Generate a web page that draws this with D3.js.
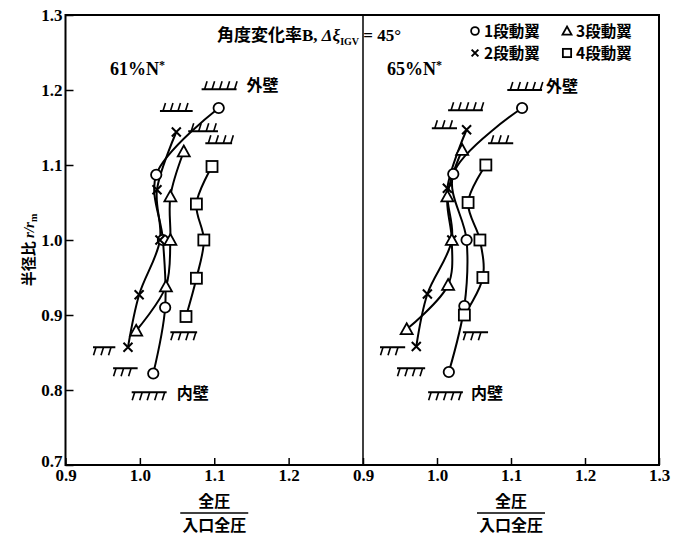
<!DOCTYPE html>
<html>
<head>
<meta charset="utf-8">
<script src="https://cdn.jsdelivr.net/npm/d3@7"></script>
<style>
  body { margin: 0; background: #fff; }
  svg text { fill: #000; }
</style>
</head>
<body>
<div id="vis"></div>
<script>
// ---- data ----
const STAGE_LABELS = ['1段動翼', '2段動翼', '3段動翼', '4段動翼'];
const STAGE_SYMBOLS = ['circle', 'cross', 'triangle', 'square'];
const SPEED_LABELS = ['61%N*', '65%N*'];

// 61%N*  (r/rm, total pressure ratio)
const r61Stage1 = [1.176, 1.087, 1.0, 0.91, 0.822];
const p61Stage1 = [1.106, 1.022, 1.031, 1.034, 1.018];
const r61Stage2 = [1.144, 1.067, 1.0, 0.927, 0.857];
const p61Stage2 = [1.049, 1.023, 1.027, 0.999, 0.984];
const r61Stage3 = [1.118, 1.058, 1.0, 0.938, 0.879];
const p61Stage3 = [1.059, 1.041, 1.041, 1.035, 0.995];
const r61Stage4 = [1.098, 1.048, 1.0, 0.949, 0.898];
const p61Stage4 = [1.097, 1.076, 1.086, 1.076, 1.062];

// 65%N*
const r65Stage1 = [1.176, 1.088, 1.0, 0.912, 0.824];
const p65Stage1 = [1.115, 1.022, 1.040, 1.037, 1.016];
const r65Stage2 = [1.147, 1.069, 1.0, 0.928, 0.858];
const p65Stage2 = [1.040, 1.014, 1.020, 0.987, 0.972];
const r65Stage3 = [1.12, 1.058, 1.0, 0.94, 0.881];
const p65Stage3 = [1.034, 1.014, 1.020, 1.015, 0.959];
const r65Stage4 = [1.1, 1.05, 1.0, 0.95, 0.9];
const p65Stage4 = [1.066, 1.042, 1.058, 1.062, 1.037];

// wall marks: [x start, x end, r/rm]
const outerWalls61 = [[1.083, 1.130, 1.201], [1.027, 1.071, 1.172], [1.065, 1.105, 1.145], [1.088, 1.124, 1.129]];
const innerWalls61 = [[0.937, 0.967, 0.857], [0.964, 0.997, 0.829], [1.041, 1.077, 0.877], [0.989, 1.036, 0.797]];
const outerWalls65 = [[1.095, 1.142, 1.200], [1.015, 1.062, 1.173], [0.993, 1.027, 1.149], [1.069, 1.103, 1.129]];
const innerWalls65 = [[0.923, 0.957, 0.857], [0.946, 0.984, 0.829], [1.035, 1.069, 0.877], [0.988, 1.035, 0.797]];

const X_TICKS_LEFT = [0.9, 1.0, 1.1, 1.2];
const X_TICKS_RIGHT = [0.9, 1.0, 1.1, 1.2, 1.3];
const Y_TICKS = [0.7, 0.8, 0.9, 1.0, 1.1, 1.2, 1.3];

// ---- layout ----
const WIDTH = 685;
const HEIGHT = 537;
const PLOT = { left: 65.5, mid: 363, right: 659, top: 15, bottom: 465 };
const NUM_FONT = "'Liberation Serif', 'DejaVu Serif', serif";
const CJK_FONT = "'Noto Sans CJK JP', 'Liberation Serif', sans-serif";

const SVG = d3.select('#vis').append('svg')
  .attr('width', WIDTH)
  .attr('height', HEIGHT);

const y = d3.scaleLinear().domain([0.7, 1.3]).range([PLOT.bottom, PLOT.top]);
const xLeft = d3.scaleLinear().domain([0.9, 1.3]).range([PLOT.left, PLOT.mid]);
const xRight = d3.scaleLinear().domain([0.9, 1.3]).range([PLOT.mid, PLOT.right]);

function toPoints(rs, ps) {
  return rs.map((r, i) => ({ r: r, p: ps[i] }));
}

function main() {
  const panels = [
    {
      x: xLeft, label: SPEED_LABELS[0], ticks: X_TICKS_LEFT,
      series: [toPoints(r61Stage1, p61Stage1), toPoints(r61Stage2, p61Stage2),
               toPoints(r61Stage3, p61Stage3), toPoints(r61Stage4, p61Stage4)],
      outer: outerWalls61, inner: innerWalls61,
      labelPos: [110, 75], outerGap: 10, innerGap: 10,
    },
    {
      x: xRight, label: SPEED_LABELS[1], ticks: X_TICKS_RIGHT,
      series: [toPoints(r65Stage1, p65Stage1), toPoints(r65Stage2, p65Stage2),
               toPoints(r65Stage3, p65Stage3), toPoints(r65Stage4, p65Stage4)],
      outer: outerWalls65, inner: innerWalls65,
      labelPos: [387, 75], outerGap: 4, innerGap: 8,
    },
  ];

  drawFrame();
  panels.forEach(drawPanel);
  drawLegend();
  drawTexts(panels);
}

function drawFrame() {
  const g = SVG.append('g');
  g.append('rect')
    .attr('x', PLOT.left).attr('y', PLOT.top)
    .attr('width', PLOT.right - PLOT.left)
    .attr('height', PLOT.bottom - PLOT.top)
    .attr('fill', 'none').attr('stroke', '#000').attr('stroke-width', 2);
  g.append('line')
    .attr('x1', PLOT.mid).attr('x2', PLOT.mid)
    .attr('y1', PLOT.top).attr('y2', PLOT.bottom)
    .attr('stroke', '#000').attr('stroke-width', 1.5);

  // y axis, ticks inward
  const yAxis = d3.axisLeft(y).tickValues(Y_TICKS)
    .tickSizeInner(-8).tickSizeOuter(0).tickPadding(3)
    .tickFormat(d3.format('.1f'));
  const ya = g.append('g').attr('transform', `translate(${PLOT.left},0)`).call(yAxis);
  ya.select('.domain').remove();
  ya.selectAll('line').attr('stroke-width', 1.5);
  ya.selectAll('text').attr('font-family', NUM_FONT).attr('font-size', 17)
    .attr('font-weight', 'bold');
  // the bottom label sits a little higher, clear of the 0.9 on the x axis
  ya.selectAll('.tick').filter((d) => d === 0.7).select('text').attr('y', -4);
}

function drawPanel(panel) {
  const x = panel.x;
  const g = SVG.append('g');

  const xAxis = d3.axisBottom(x).tickValues(panel.ticks)
    .tickSizeInner(-7).tickSizeOuter(0).tickPadding(4)
    .tickFormat(d3.format('.1f'));
  const xa = g.append('g').attr('transform', `translate(0,${PLOT.bottom})`).call(xAxis);
  xa.select('.domain').remove();
  xa.selectAll('line').attr('stroke-width', 1.5);
  xa.selectAll('text').attr('font-family', NUM_FONT).attr('font-size', 17)
    .attr('font-weight', 'bold');

  // wall marks
  panel.outer.forEach((w) => drawWall(g, x(w[0]), x(w[1]), y(w[2]), 'outer'));
  panel.inner.forEach((w) => drawWall(g, x(w[0]), x(w[1]), y(w[2]), 'inner'));

  const lastOuter = panel.outer[0];
  g.append('text')
    .attr('x', x(lastOuter[1]) + panel.outerGap).attr('y', y(lastOuter[2]) + 2)
    .attr('font-family', CJK_FONT).attr('font-size', 16).attr('font-weight', 'bold')
    .text('外壁');
  const lastInner = panel.inner[3];
  g.append('text')
    .attr('x', x(lastInner[1]) + panel.innerGap).attr('y', y(lastInner[2]) + 7)
    .attr('font-family', CJK_FONT).attr('font-size', 16).attr('font-weight', 'bold')
    .text('内壁');

  // curves
  const line = d3.line()
    .x((d) => x(d.p))
    .y((d) => y(d.r))
    .curve(d3.curveCatmullRom.alpha(0.5));
  panel.series.forEach((pts) => {
    g.append('path')
      .attr('d', line(pts))
      .attr('fill', 'none').attr('stroke', '#000').attr('stroke-width', 2);
  });

  // markers
  panel.series.forEach((pts, i) => {
    pts.forEach((d) => drawSymbol(g, STAGE_SYMBOLS[i], x(d.p), y(d.r), 1));
  });
}

function drawWall(g, x0, x1, yy, side) {
  g.append('line')
    .attr('x1', x0).attr('x2', x1).attr('y1', yy).attr('y2', yy)
    .attr('stroke', '#000').attr('stroke-width', 2);
  const step = 7.5;
  for (let xx = x0 + 3; xx <= x1 - 1; xx += step) {
    if (side === 'outer') {
      g.append('line')
        .attr('x1', xx).attr('y1', yy).attr('x2', xx + 2.5).attr('y2', yy - 8)
        .attr('stroke', '#000').attr('stroke-width', 1.6);
    } else {
      g.append('line')
        .attr('x1', xx).attr('y1', yy).attr('x2', xx - 2.5).attr('y2', yy + 8)
        .attr('stroke', '#000').attr('stroke-width', 1.6);
    }
  }
}

function drawSymbol(g, type, cx, cy, s) {
  const sw = 1.8;
  if (type === 'circle') {
    g.append('circle').attr('cx', cx).attr('cy', cy).attr('r', 5.2 * s)
      .attr('fill', '#fff').attr('stroke', '#000').attr('stroke-width', sw);
  } else if (type === 'square') {
    const h = 5.5 * s;
    g.append('rect').attr('x', cx - h).attr('y', cy - h)
      .attr('width', 2 * h).attr('height', 2 * h)
      .attr('fill', '#fff').attr('stroke', '#000').attr('stroke-width', sw);
  } else if (type === 'triangle') {
    const h = 6 * s;
    g.append('path')
      .attr('d', `M${cx},${cy - h}L${cx + h},${cy + h * 0.8}L${cx - h},${cy + h * 0.8}Z`)
      .attr('fill', '#fff').attr('stroke', '#000').attr('stroke-width', sw);
  } else {
    const h = 4.5 * s;
    g.append('path')
      .attr('d', `M${cx - h},${cy - h}L${cx + h},${cy + h}M${cx + h},${cy - h}L${cx - h},${cy + h}`)
      .attr('fill', 'none').attr('stroke', '#000').attr('stroke-width', 2);
  }
}

function drawLegend() {
  const g = SVG.append('g');
  const cols = [475, 567];
  const rows = [31, 53];
  const order = [[0, 2], [1, 3]];
  order.forEach((row, ri) => {
    row.forEach((idx, ci) => {
      drawSymbol(g, STAGE_SYMBOLS[idx], cols[ci], rows[ri], 0.75);
      g.append('text')
        .attr('x', cols[ci] + 9).attr('y', rows[ri] + 6)
        .attr('font-family', CJK_FONT).attr('font-size', 15.5).attr('font-weight', 'bold')
        .text(STAGE_LABELS[idx]);
    });
  });
}

function drawTexts(panels) {
  // title
  const t = SVG.append('text')
    .attr('x', 217).attr('y', 41)
    .attr('font-family', CJK_FONT).attr('font-size', 17).attr('font-weight', 'bold');
  t.append('tspan').text('角度変化率');
  t.append('tspan').attr('font-family', NUM_FONT).text('B, ');
  t.append('tspan').attr('font-family', NUM_FONT).attr('font-style', 'italic').text('Δξ');
  t.append('tspan').attr('font-family', NUM_FONT).attr('font-size', 10).attr('dy', 4).text('IGV');
  t.append('tspan').attr('font-family', NUM_FONT).attr('dy', -4).text(' = 45°');

  // speed labels
  panels.forEach((p) => {
    const s = SVG.append('text')
      .attr('x', p.labelPos[0]).attr('y', p.labelPos[1])
      .attr('font-family', NUM_FONT).attr('font-size', 18).attr('font-weight', 'bold');
    s.append('tspan').text(p.label.replace('*', ''));
    s.append('tspan').attr('font-size', 12).attr('dy', -6).text('*');
  });

  // y label
  const yl = SVG.append('text')
    .attr('transform', 'translate(34,250) rotate(-90)')
    .attr('text-anchor', 'middle')
    .attr('font-family', CJK_FONT).attr('font-size', 15).attr('font-weight', 'bold');
  yl.append('tspan').text('半径比 ');
  yl.append('tspan').attr('font-family', NUM_FONT).attr('font-style', 'italic').text('r/r');
  yl.append('tspan').attr('font-family', NUM_FONT).attr('font-size', 10).attr('dy', 3).text('m');

  // x labels as fractions
  [xLeft, xRight].forEach((x) => {
    const cx = (x.range()[0] + x.range()[1]) / 2;
    const g = SVG.append('g').attr('font-family', CJK_FONT).attr('font-weight', 'bold')
      .attr('font-size', 16).attr('text-anchor', 'middle');
    g.append('text').attr('x', cx).attr('y', 507).text('全圧');
    g.append('line').attr('x1', cx - 34).attr('x2', cx + 34)
      .attr('y1', 513).attr('y2', 513).attr('stroke', '#000').attr('stroke-width', 1.5);
    g.append('text').attr('x', cx).attr('y', 531).text('入口全圧');
  });
}

main();
</script>
</body>
</html>
